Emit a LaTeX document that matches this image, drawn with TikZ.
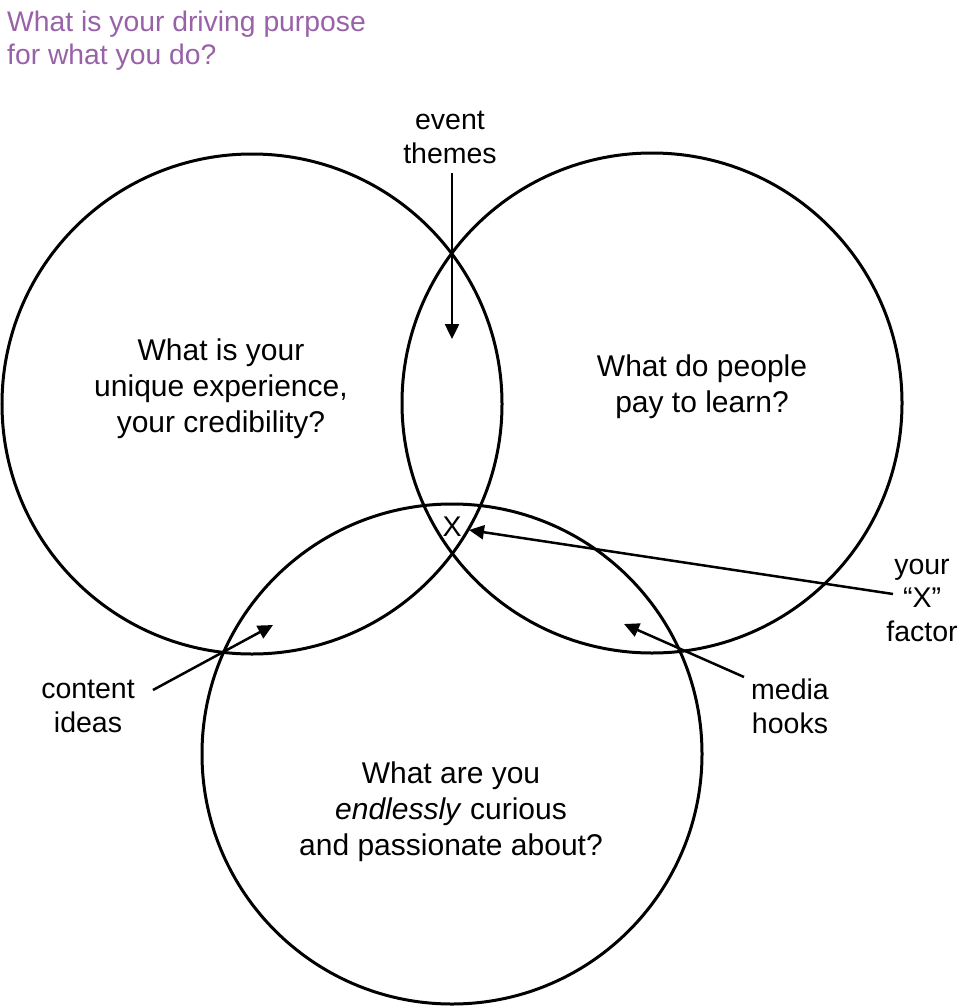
\documentclass[tikz,border=0pt]{standalone}
\usepackage{fontspec}
\setmainfont{Liberation Sans}
\usetikzlibrary{arrows.meta}
\definecolor{titlepurple}{RGB}{152,98,168}
\begin{document}
\begin{tikzpicture}[x=1pt,y=-1pt,
  ring/.style={circle,draw=black,line width=3pt,inner sep=0pt,minimum size=500pt},
  maintext/.style={align=center,inner sep=0pt,font=\fontsize{30}{36}\selectfont},
  labeltext/.style={align=center,inner sep=0pt,font=\fontsize{28.5}{33.5}\selectfont},
  arr/.style={line width=2.5pt,-{Triangle[length=15pt,width=14pt]}}
]
\useasboundingbox (0,0) rectangle (966,1006);
% circles
\node[ring] (L) at (252,404) {};
\node[ring] (R) at (652,403) {};
\node[ring] (B) at (452,754) {};
% title
\node[anchor=west,align=left,inner sep=0pt,text=titlepurple,font=\fontsize{28.3}{33}\selectfont] (title) at (7,40.5) {What is your driving purpose\\for what you do?};
% circle texts
\node[maintext] (Lt) at (221,389) {What is your\\unique experience,\\your credibility?};
\node[maintext] (Rt) at (702,387) {What do people\\pay to learn?};
\node[maintext] (Bt) at (451,811.5) {What are you\\\textit{endlessly} curious\\and passionate about?};
% labels
\node[labeltext] (ev) at (450,137.5) {event\\themes};
\node[labeltext] (ci) at (88,706.5) {content\\ideas};
\node[labeltext] (mh) at (790,706.5) {media\\hooks};
\node[labeltext] (xf) at (922,600) {your\\“X”\\factor};
\node[inner sep=0pt,font=\fontsize{28.5}{34}\selectfont] (X) at (452,527) {X};
% arrow ends
\coordinate (evtail) at (452,173);
\coordinate (evtip) at (452,339);
\coordinate (citail) at (153,690);
\coordinate (citip) at (273,625);
\coordinate (mhtail) at (744,677);
\coordinate (mhtip) at (624,624);
\coordinate (xftail) at (893,594);
\coordinate (xftip) at (469,530);
\draw[arr] (evtail) -- (evtip);
\draw[arr] (citail) -- (citip);
\draw[arr] (mhtail) -- (mhtip);
\draw[arr] (xftail) -- (xftip);
\end{tikzpicture}
\end{document}
